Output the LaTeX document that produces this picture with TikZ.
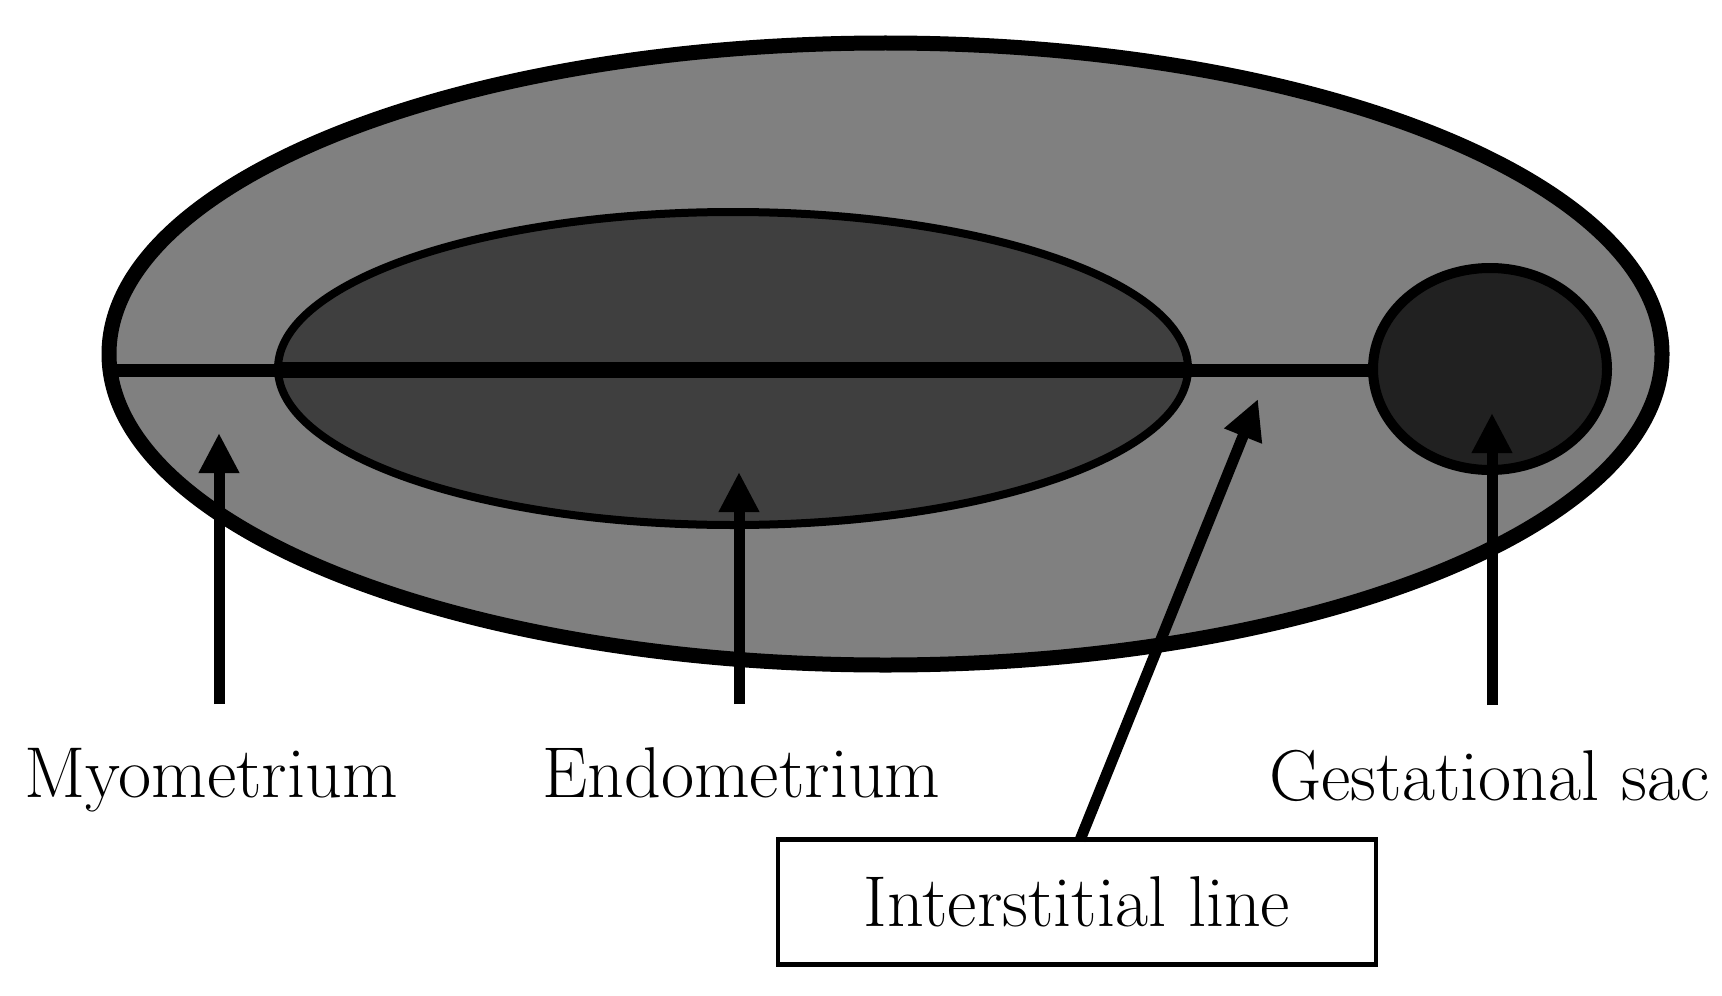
\documentclass[tikz,border=0pt]{standalone}
\usetikzlibrary{arrows.meta,shapes.geometric,calc}
\definecolor{myogray}{RGB}{128,128,128}
\definecolor{endogray}{RGB}{63,63,63}
\definecolor{sacgray}{RGB}{33,33,33}
\begin{document}
\begin{tikzpicture}[x=0.5pt,y=-0.5pt,
  shapebox/.style={ellipse,inner sep=0pt,outer sep=0pt,draw=black},
  arr/.style={line width=5.5pt,-{Triangle[length=20pt,width=19pt]}},
  lbl/.style={font=\fontsize{36}{42}\selectfont,anchor=base,inner sep=0pt},
  boxlbl/.style={draw=black,line width=2.2pt,fill=white,minimum width=299pt,minimum height=62.5pt,inner sep=0pt,font=\fontsize{36}{42}\selectfont}]
\useasboundingbox (0,0) rectangle (1722,995);
% outer uterus (myometrium)
\node[shapebox,fill=myogray,line width=7.5pt,minimum width=776.5pt,minimum height=311pt] (outer) at (885.5,354) {};
% endometrium
\node[shapebox,fill=endogray,line width=4pt,minimum width=455pt,minimum height=156.5pt] (endo) at (733,368.5) {};
% interstitial line
\draw[line width=6.5pt] (outer.west |- 0,370) -- (1380,370) coordinate (lineend);
\draw[line width=8pt] (endo.west |- 0,370) -- (endo.east |- 0,370);
% gestational sac
\node[shapebox,fill=sacgray,line width=5pt,minimum width=117pt,minimum height=101pt] (sac) at (1490,369) {};
% labels
\node[lbl] (myo) at (211,797) {Myometrium};
\node[lbl] (endolbl) at (741.5,797) {Endometrium};
\node[lbl] (saclbl) at (1489.5,800) {Gestational sac};
\node[boxlbl] (ilbox) at (1077,902) {Interstitial line};
% arrow tips and tails
\coordinate (myotip) at (219,433);
\coordinate (myotail) at (219,704);
\coordinate (endotip) at (739,472);
\coordinate (endotail) at (739,704);
\coordinate (sactip) at (1492,413);
\coordinate (sactail) at (1492,705);
\coordinate (iltip) at (1258,399);
\coordinate (iltail) at (1080,840);
\draw[arr] (myotail) -- (myotip);
\draw[arr] (endotail) -- (endotip);
\draw[arr] (sactail) -- (sactip);
\draw[arr] (iltail) -- (iltip);
\end{tikzpicture}
\end{document}
